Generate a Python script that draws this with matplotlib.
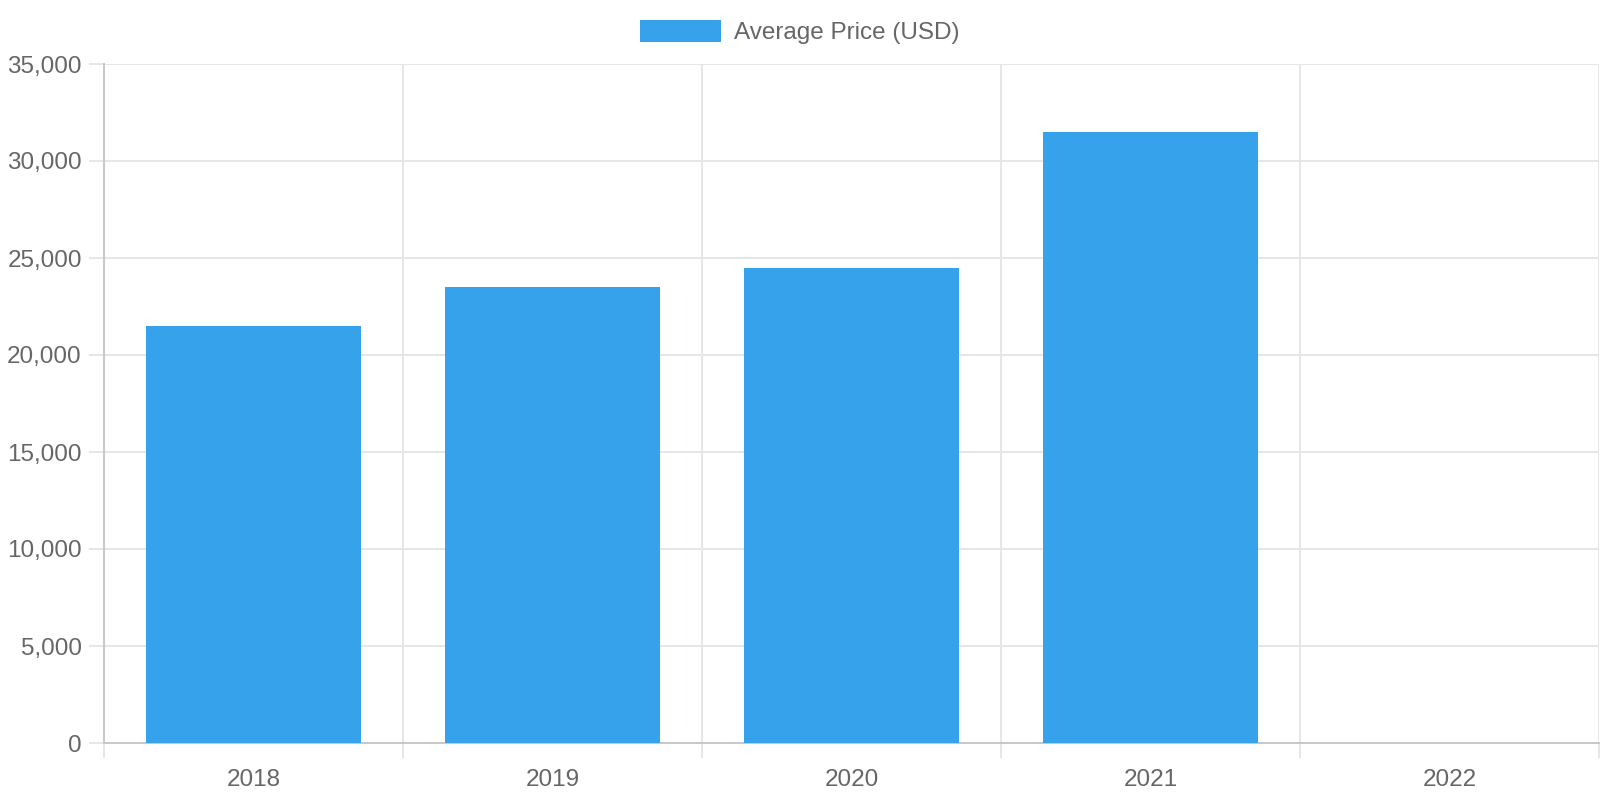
import numpy as np
import matplotlib.pyplot as plt

years = ["2018", "2019", "2020", "2021", "2022"]
avg_price = [21500, 23500, 24500, 31500, np.nan]  # no bar for 2022
series_name = "Average Price (USD)"

plt.rcParams['font.family'] = ['Liberation Sans', 'DejaVu Sans']
txt = "#666666"
grid_c = "#e6e6e6"
axis_c = "#c8c8c8"
fs = 17.5

fig = plt.figure(figsize=(16, 8), dpi=100)
ax = fig.add_axes([104/1600, 57/800, 1495/1600, 679/800])

x = np.arange(len(years))
bars = ax.bar(x, avg_price, width=0.72, color="#36a2eb", label=series_name, zorder=3)

ax.set_xlim(-0.5, len(years) - 0.5)
ax.set_ylim(0, 35000)
ax.set_yticks(np.arange(0, 35001, 5000))
ax.set_yticklabels([f"{v:,}" for v in range(0, 35001, 5000)])

# labels at centers, grid/ticks at category borders
ax.set_xticks(x)
ax.set_xticklabels(years)
ax.set_xticks(np.arange(-0.5, len(years), 1), minor=True)
ax.tick_params(axis="x", which="major", length=0, pad=19, labelsize=fs, labelcolor=txt)
ax.tick_params(axis="x", which="minor", length=11, width=1.4, color=grid_c)
ax.tick_params(axis="y", length=11, width=1.4, color=grid_c, pad=5, labelsize=fs, labelcolor=txt)

ax.grid(True, axis="y", color=grid_c, linewidth=1.4, zorder=0)
ax.grid(True, axis="x", which="minor", color=grid_c, linewidth=1.4, zorder=0)
ax.set_axisbelow(True)

for s in ["top", "right"]:
    ax.spines[s].set_visible(False)
ax.spines["left"].set_color(axis_c)
ax.spines["bottom"].set_color(axis_c)
ax.spines["left"].set_linewidth(1.4)
ax.spines["bottom"].set_linewidth(1.4)

fig.legend(handles=[bars], labels=[series_name], loc="center", bbox_to_anchor=(800/1600, 1 - 32/800),
           frameon=False, fontsize=fs, labelcolor=txt, handlelength=3.3, handleheight=1.0,
           handletextpad=0.55)

fig.savefig("out.png", dpi=100)
